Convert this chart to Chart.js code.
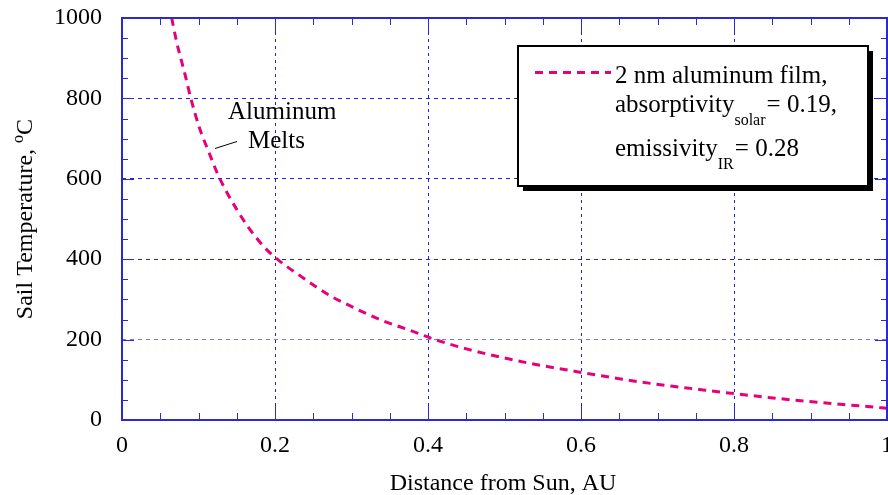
<!DOCTYPE html>
<html><head><meta charset="utf-8">
<script src="https://cdn.jsdelivr.net/npm/chart.js@4/dist/chart.umd.min.js"></script>
<style>html,body{margin:0;padding:0;background:#fff;overflow:hidden;} #wrap{width:888px;height:495px;position:relative;}</style>
</head><body><div id="wrap"><canvas id="c" width="888" height="495"></canvas></div>
<script>
// ---- data ----
const distanceAU = [0.065,0.071,0.083,0.090,0.101,0.114,0.125,0.138,0.150,0.165,0.187,0.203,0.232,0.254,0.275,0.297,0.319,0.342,0.366,0.388,0.406,0.454,0.498,0.541,0.585,0.604,0.646,0.676,0.720,0.763,0.803,0.855,0.898,0.946,0.990,1.000];
const sailTempC  = [1000,944,855,800,728,664,612,563,524,480,428,400,360,331,306,285,265,246,230,215,202,175,155,138,123.5,117,104,95,84,74,65,54,46,38,31,29];
const xTickValues = [0,0.2,0.4,0.6,0.8,1];
const yTickValues = [0,200,400,600,800,1000];
const xTitle = 'Distance from Sun, AU';
const yTitleMain = 'Sail Temperature, ';
const yTitleSup = 'o';
const yTitleUnit = 'C';
const seriesLabel = '2 nm aluminum film,';
const legendLine2 = ['absorptivity', 'solar', '= 0.19,'];
const legendLine3 = ['emissivity', 'IR', '= 0.28'];
const annotationLines = ['Aluminum', 'Melts'];

const FONT = '"Liberation Serif","Times New Roman",Times,serif';
const PINK = '#e6007a';
const GRID = '#2222cc';
const GRID_LIGHT = '#7777e6';
const FRAME = '#2a2ad0';

const decor = {
  id: 'decor',
  afterDraw(chart) {
    const {ctx, chartArea: a, scales: {x, y}} = chart;
    ctx.save();
    // minor/major ticks inside frame
    ctx.strokeStyle = FRAME; ctx.lineWidth = 1;
    for (let i = 0; i <= 20; i++) {
      const px = Math.round(x.getPixelForValue(i * 0.05)) + 0.5;
      const L = (i % 4 === 0) ? 14 : 7;
      ctx.beginPath();
      ctx.moveTo(px, a.bottom); ctx.lineTo(px, a.bottom - L);
      ctx.moveTo(px, a.top); ctx.lineTo(px, a.top + L);
      ctx.stroke();
    }
    for (let i = 0; i <= 20; i++) {
      const py = Math.round(y.getPixelForValue(i * 50)) + 0.5;
      const L = (i % 4 === 0) ? 12 : 6;
      ctx.beginPath();
      ctx.moveTo(a.left, py); ctx.lineTo(a.left + L, py);
      ctx.moveTo(a.right, py); ctx.lineTo(a.right - L, py);
      ctx.stroke();
    }
    // frame
    ctx.lineWidth = 2;
    ctx.strokeRect(a.left, a.top, a.right - a.left, a.bottom - a.top);

    // annotation
    ctx.fillStyle = '#000';
    ctx.font = '25px ' + FONT;
    ctx.textAlign = 'left'; ctx.textBaseline = 'alphabetic';
    ctx.fillText(annotationLines[0], 228, 119);
    ctx.fillText(annotationLines[1], 248, 148);
    ctx.strokeStyle = '#000'; ctx.lineWidth = 1;
    ctx.beginPath(); ctx.moveTo(215, 148.5); ctx.lineTo(237, 141.5); ctx.stroke();

    // legend box with shadow
    const bx = 518, by = 46, bw = 350, bh = 140;
    ctx.fillStyle = '#000'; ctx.fillRect(bx + 5, by + 5, bw, bh);
    ctx.fillStyle = '#fff'; ctx.fillRect(bx, by, bw, bh);
    ctx.strokeStyle = '#000'; ctx.lineWidth = 2; ctx.strokeRect(bx, by, bw, bh);
    ctx.strokeStyle = PINK; ctx.lineWidth = 3; ctx.setLineDash([8, 6]);
    ctx.beginPath(); ctx.moveTo(535, 72.5); ctx.lineTo(611, 72.5); ctx.stroke();
    ctx.setLineDash([]);
    ctx.fillStyle = '#000';
    const tx = 615;
    ctx.font = '25px ' + FONT;
    ctx.fillText(seriesLabel, tx, 83);
    let cx = tx;
    ctx.fillText(legendLine2[0], cx, 112); cx += ctx.measureText(legendLine2[0]).width;
    ctx.font = '16px ' + FONT; ctx.fillText(legendLine2[1], cx, 125); cx += ctx.measureText(legendLine2[1]).width + 1;
    ctx.font = '25px ' + FONT; ctx.fillText(legendLine2[2], cx, 112);
    cx = tx;
    ctx.fillText(legendLine3[0], cx, 156); cx += ctx.measureText(legendLine3[0]).width;
    ctx.font = '16px ' + FONT; ctx.fillText(legendLine3[1], cx, 169); cx += ctx.measureText(legendLine3[1]).width + 1;
    ctx.font = '25px ' + FONT; ctx.fillText(legendLine3[2], cx, 156);

    // x title
    ctx.font = '24px ' + FONT; ctx.textAlign = 'center';
    ctx.fillText(xTitle, 503, 490);

    // y title (rotated, with superscript)
    ctx.save();
    ctx.translate(32, (a.top + a.bottom) / 2);
    ctx.rotate(-Math.PI / 2);
    ctx.textAlign = 'left';
    ctx.font = '24px ' + FONT;
    const w1 = ctx.measureText(yTitleMain).width;
    const w3 = ctx.measureText(yTitleUnit).width;
    ctx.font = '16px ' + FONT;
    const w2 = ctx.measureText(yTitleSup).width;
    let sx = -(w1 + w2 + w3) / 2;
    ctx.font = '24px ' + FONT; ctx.fillText(yTitleMain, sx, 0);
    ctx.font = '16px ' + FONT; ctx.fillText(yTitleSup, sx + w1, -9);
    ctx.font = '24px ' + FONT; ctx.fillText(yTitleUnit, sx + w1 + w2, 0);
    ctx.restore();

    ctx.restore();
  }
};

const gridColorX = c => (c.tick && (c.tick.value === 0 || c.tick.value === 1)) ? 'rgba(0,0,0,0)' : GRID;
const gridColorY = c => {
  if (!c.tick || c.tick.value === 0 || c.tick.value === 1000) return 'rgba(0,0,0,0)';
  return c.tick.value === 200 ? GRID_LIGHT : GRID;
};

new Chart(document.getElementById('c'), {
  type: 'scatter',
  data: {
    datasets: [{
      label: seriesLabel,
      data: distanceAU.map((d, i) => ({x: d, y: sailTempC[i]})),
      showLine: true,
      borderColor: PINK,
      borderWidth: 3,
      borderDash: [8, 6],
      pointRadius: 0,
      fill: false,
      cubicInterpolationMode: 'monotone'
    }]
  },
  options: {
    responsive: false,
    animation: false,
    devicePixelRatio: 1,
    layout: { padding: { top: 18, right: 1, left: 0, bottom: 0 } },
    plugins: { legend: { display: false }, tooltip: { enabled: false } },
    scales: {
      x: {
        type: 'linear', min: 0, max: 1,
        afterBuildTicks: s => { s.ticks = xTickValues.map(v => ({value: v})); },
        afterFit: s => { s.height = 75; s.paddingLeft = 0; s.paddingRight = 0; },
        ticks: { font: { family: FONT, size: 24 }, color: '#000', padding: 11, maxRotation: 0, autoSkip: false, callback: v => String(v) },
        grid: { drawTicks: false, color: gridColorX, lineWidth: 1 },
        border: { display: false, dash: [3, 4] }
      },
      y: {
        min: 0, max: 1000,
        afterBuildTicks: s => { s.ticks = yTickValues.map(v => ({value: v})); },
        afterFit: s => { s.width = 122; s.paddingTop = 0; s.paddingBottom = 0; },
        ticks: { font: { family: FONT, size: 24 }, color: '#000', padding: 20, callback: v => String(v) },
        grid: { drawTicks: false, color: gridColorY, lineWidth: 1 },
        border: { display: false, dash: [4, 4] }
      }
    }
  },
  plugins: [decor]
});
</script>
</body></html>
